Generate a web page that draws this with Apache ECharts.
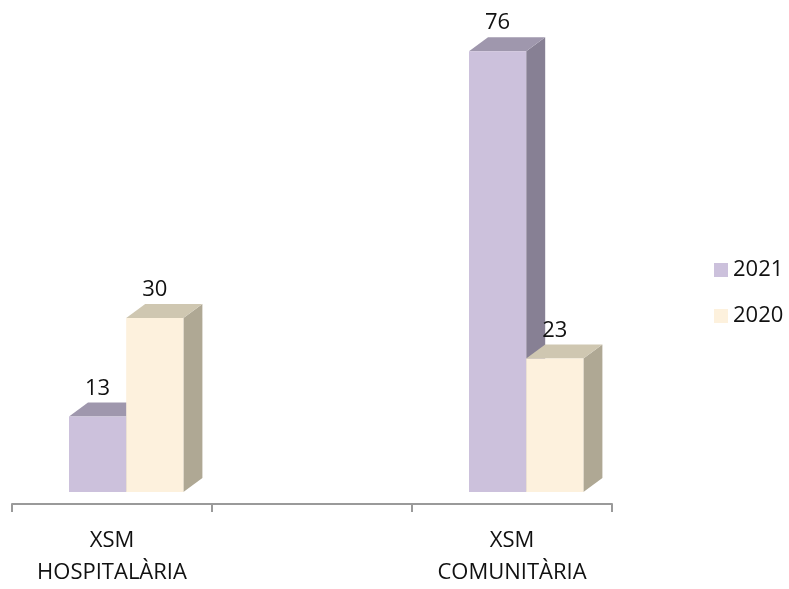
<!DOCTYPE html>
<html><head><meta charset="utf-8">
<script src="https://cdn.jsdelivr.net/npm/echarts@6/dist/echarts.min.js"></script>
<style>html,body{margin:0;padding:0;background:#fff}#c{width:789px;height:589px}</style>
</head><body><div id="c"></div>
<script>
const categories = ['XSM\nHOSPITALÀRIA', '', 'XSM\nCOMUNITÀRIA'];
const seriesNames = ['2021', '2020'];
const values2021 = [13, null, 76];
const values2020 = [30, null, 23];

const palette = {
  '2021': {front: '#ccc1dc', top: '#9f97ad', side: '#878094'},
  '2020': {front: '#fdf1dd', top: '#cfc7b1', side: '#afa894'}
};
const DX = 19, DY = 14, FLOOR = 12;
const FONT = '"Open Sans"';

function makeRender(idx, name) {
  const c = palette[name];
  return function (params, api) {
    const v = api.value(1);
    if (v == null || isNaN(v)) return;
    const cat = api.value(0);
    const top = api.coord([cat, v]);
    const base = api.coord([cat, 0]);
    const band = api.size([1, 0])[0];
    const w = band * 0.286;
    const x0 = top[0] - band * 0.215 + idx * w;
    const x1 = x0 + w;
    const yt = top[1] - FLOOR, yb = base[1] - FLOOR;
    return {
      type: 'group',
      children: [
        {type: 'polygon', shape: {points: [[x1, yt], [x1 + DX, yt - DY], [x1 + DX, yb - DY], [x1, yb]]}, style: {fill: c.side}},
        {type: 'polygon', shape: {points: [[x0, yt], [x0 + DX, yt - DY], [x1 + DX, yt - DY], [x1, yt]]}, style: {fill: c.top}},
        {type: 'rect', shape: {x: x0, y: yt, width: w, height: yb - yt}, style: {fill: c.front}},
        {type: 'text', style: {text: String(v), x: (x0 + x1) / 2, y: yt - 28, align: 'center', verticalAlign: 'middle', fill: '#111', font: '22px ' + FONT}}
      ]
    };
  };
}

const chart = echarts.init(document.getElementById('c'), null, {renderer: 'canvas'});
chart.setOption({
  animation: false,
  textStyle: {fontFamily: FONT},
  grid: {left: 12, right: 177, top: 40, bottom: 77},
  legend: {
    orient: 'vertical', left: 709, top: 254, icon: 'rect', itemWidth: 14, itemHeight: 14, itemGap: 24,
    textStyle: {fontSize: 22, color: '#111', fontFamily: FONT},
    data: seriesNames
  },
  xAxis: {
    type: 'category', data: categories,
    axisLine: {lineStyle: {color: '#9a9a9a', width: 2}},
    axisTick: {show: true, length: 8, lineStyle: {color: '#9a9a9a', width: 2}},
    axisLabel: {fontSize: 22, color: '#111', lineHeight: 32, margin: 21, interval: 0, fontFamily: FONT}
  },
  yAxis: {type: 'value', min: 0, max: 80, show: false, splitLine: {show: false}},
  series: [
    {name: '2021', type: 'custom', itemStyle: {color: palette['2021'].front}, renderItem: makeRender(0, '2021'),
     data: values2021.map((v, i) => [i, v])},
    {name: '2020', type: 'custom', itemStyle: {color: palette['2020'].front}, renderItem: makeRender(1, '2020'),
     data: values2020.map((v, i) => [i, v])}
  ]
});
</script></body></html>
